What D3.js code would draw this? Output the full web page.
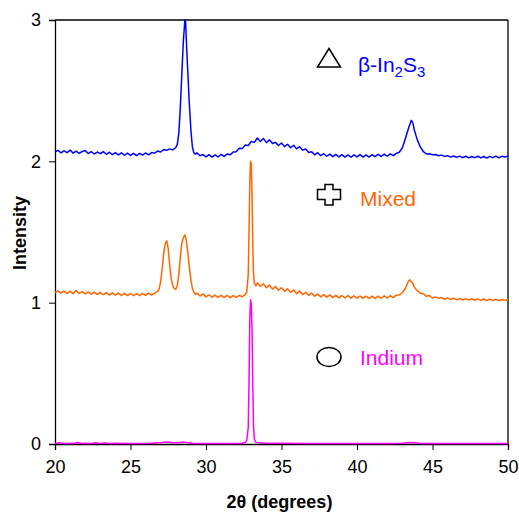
<!DOCTYPE html>
<html>
<head>
<meta charset="utf-8">
<script src="https://cdn.jsdelivr.net/npm/d3@7"></script>
<style>
  html, body { margin: 0; padding: 0; background: #fff; }
  svg { display: block; font-family: Arial, "Liberation Sans", sans-serif; }
</style>
</head>
<body>
<svg id="chart" width="519" height="514"></svg>
<script>
// XRD patterns, [2θ, intensity] (offset-stacked)
const betaIn2S3 = [
  [20.0,2.068],[20.2,2.078],[20.4,2.060],[20.6,2.074],[20.8,2.062],[21.0,2.080],[21.2,2.058],[21.4,2.072],
  [21.6,2.056],[21.8,2.070],[22.0,2.076],[22.2,2.055],[22.4,2.068],[22.6,2.052],[22.8,2.066],[23.0,2.054],
  [23.2,2.069],[23.4,2.050],[23.6,2.064],[23.8,2.047],[24.0,2.062],[24.2,2.045],[24.4,2.060],[24.6,2.043],
  [24.8,2.058],[25.0,2.042],[25.2,2.057],[25.4,2.041],[25.6,2.056],[25.8,2.044],[26.0,2.059],[26.2,2.046],
  [26.4,2.062],[26.6,2.058],[26.8,2.073],[27.0,2.066],[27.2,2.084],[27.4,2.078],[27.6,2.088],[27.8,2.080],
  [28.0,2.098],[28.1,2.12],[28.2,2.20],[28.3,2.38],[28.4,2.62],[28.5,2.85],[28.6,3.0],[28.65,2.99],
  [28.7,2.85],[28.8,2.62],[28.9,2.40],[29.0,2.22],[29.1,2.10],[29.2,2.06],[29.3,2.050],[29.4,2.060],
  [29.6,2.040],[29.8,2.048],[30.0,2.032],[30.2,2.047],[30.4,2.030],[30.6,2.045],[30.8,2.031],[31.0,2.049],
  [31.2,2.035],[31.4,2.052],[31.6,2.046],[31.8,2.066],[32.0,2.068],[32.2,2.092],[32.4,2.090],[32.6,2.115],
  [32.8,2.112],[33.0,2.140],[33.2,2.134],[33.4,2.165],[33.6,2.140],[33.8,2.162],[34.0,2.132],[34.2,2.152],
  [34.4,2.126],[34.6,2.134],[34.8,2.112],[35.0,2.130],[35.2,2.104],[35.4,2.121],[35.6,2.096],[35.8,2.114],
  [36.0,2.088],[36.2,2.104],[36.4,2.079],[36.6,2.087],[36.8,2.062],[37.0,2.068],[37.2,2.046],[37.4,2.061],
  [37.6,2.040],[37.8,2.054],[38.0,2.036],[38.2,2.051],[38.4,2.033],[38.6,2.049],[38.8,2.031],[39.0,2.047],
  [39.2,2.030],[39.4,2.045],[39.6,2.029],[39.8,2.046],[40.0,2.031],[40.2,2.048],[40.4,2.030],[40.6,2.045],
  [40.8,2.030],[41.0,2.047],[41.2,2.033],[41.4,2.050],[41.6,2.035],[41.8,2.051],[42.0,2.036],[42.2,2.053],
  [42.4,2.040],[42.6,2.056],[42.8,2.064],[43.0,2.095],[43.2,2.160],[43.4,2.230],[43.5,2.262],[43.6,2.290],
  [43.7,2.270],[43.8,2.220],[44.0,2.150],[44.2,2.100],[44.4,2.068],[44.6,2.052],[44.8,2.054],[45.0,2.046],
  [45.2,2.048],[45.4,2.040],[45.6,2.044],[45.8,2.035],[46.0,2.040],[46.2,2.030],[46.4,2.038],[46.6,2.028],
  [46.8,2.037],[47.0,2.026],[47.2,2.036],[47.4,2.024],[47.6,2.034],[47.8,2.026],[48.0,2.036],[48.2,2.024],
  [48.4,2.034],[48.6,2.023],[48.8,2.035],[49.0,2.026],[49.2,2.037],[49.4,2.025],[49.6,2.036],[49.8,2.030],
  [50.0,2.038]
];

const mixed = [
  [20.0,1.072],[20.2,1.084],[20.4,1.068],[20.6,1.082],[20.8,1.066],[21.0,1.080],[21.2,1.064],[21.4,1.086],
  [21.6,1.065],[21.8,1.078],[22.0,1.062],[22.2,1.076],[22.4,1.060],[22.6,1.074],[22.8,1.058],[23.0,1.073],
  [23.2,1.056],[23.4,1.071],[23.6,1.054],[23.8,1.069],[24.0,1.053],[24.2,1.068],[24.4,1.051],[24.6,1.066],
  [24.8,1.050],[25.0,1.065],[25.2,1.049],[25.4,1.064],[25.6,1.050],[25.8,1.065],[26.0,1.051],[26.2,1.067],
  [26.4,1.054],[26.6,1.068],[26.8,1.080],[26.9,1.10],[27.0,1.15],[27.1,1.24],[27.2,1.35],[27.3,1.42],
  [27.4,1.437],[27.5,1.38],[27.6,1.26],[27.7,1.17],[27.8,1.12],[27.9,1.10],[28.0,1.095],[28.1,1.12],
  [28.2,1.20],[28.3,1.32],[28.4,1.42],[28.5,1.46],[28.6,1.48],[28.7,1.44],[28.8,1.35],[28.9,1.25],
  [29.0,1.16],[29.1,1.10],[29.2,1.075],[29.3,1.058],[29.4,1.068],[29.6,1.047],[29.8,1.062],[30.0,1.041],
  [30.2,1.056],[30.4,1.038],[30.6,1.053],[30.8,1.037],[31.0,1.052],[31.2,1.036],[31.4,1.051],[31.6,1.035],
  [31.8,1.050],[32.0,1.037],[32.2,1.052],[32.4,1.042],[32.6,1.058],[32.7,1.075],[32.8,1.20],[32.85,1.50],
  [32.9,1.85],[32.95,2.0],[33.0,1.98],[33.05,1.75],[33.1,1.40],[33.15,1.20],[33.2,1.14],[33.3,1.118],
  [33.4,1.140],[33.6,1.114],[33.8,1.134],[34.0,1.106],[34.2,1.124],[34.4,1.096],[34.6,1.114],[34.8,1.088],
  [35.0,1.106],[35.2,1.080],[35.4,1.098],[35.6,1.072],[35.8,1.090],[36.0,1.064],[36.2,1.082],[36.4,1.057],
  [36.6,1.073],[36.8,1.051],[37.0,1.067],[37.2,1.046],[37.4,1.061],[37.6,1.041],[37.8,1.057],[38.0,1.039],
  [38.2,1.055],[38.4,1.036],[38.6,1.052],[38.8,1.034],[39.0,1.051],[39.2,1.033],[39.4,1.050],[39.6,1.032],
  [39.8,1.048],[40.0,1.031],[40.2,1.047],[40.4,1.030],[40.6,1.046],[40.8,1.029],[41.0,1.046],[41.2,1.030],
  [41.4,1.047],[41.6,1.031],[41.8,1.048],[42.0,1.033],[42.2,1.050],[42.4,1.036],[42.6,1.053],[42.8,1.055],
  [43.0,1.070],[43.2,1.100],[43.3,1.125],[43.4,1.150],[43.5,1.162],[43.6,1.148],[43.7,1.135],[43.8,1.110],
  [44.0,1.085],[44.2,1.066],[44.4,1.062],[44.6,1.045],[44.8,1.050],[45.0,1.033],[45.2,1.040],[45.4,1.032],
  [45.6,1.036],[45.8,1.024],[46.0,1.034],[46.2,1.022],[46.4,1.031],[46.6,1.020],[46.8,1.030],[47.0,1.019],
  [47.2,1.029],[47.4,1.018],[47.6,1.028],[47.8,1.017],[48.0,1.027],[48.2,1.016],[48.4,1.026],[48.6,1.015],
  [48.8,1.025],[49.0,1.016],[49.2,1.024],[49.4,1.014],[49.6,1.023],[49.8,1.016],[50.0,1.022]
];

const indium = [
  [20.0,0.004],[20.3,0.008],[20.6,0.003],[20.9,0.005],[21.2,0.003],[21.5,0.010],[21.8,0.004],[22.1,0.006],
  [22.4,0.003],[22.7,0.009],[23.0,0.003],[23.3,0.007],[23.6,0.003],[24.0,0.005],[24.5,0.003],[25.0,0.004],
  [25.5,0.003],[26.0,0.004],[26.4,0.006],[26.8,0.008],[27.1,0.010],[27.3,0.014],[27.5,0.012],[27.8,0.008],
  [28.1,0.008],[28.4,0.012],[28.6,0.013],[28.8,0.008],[29.2,0.004],[29.6,0.003],[30.0,0.004],[30.5,0.003],
  [31.0,0.004],[31.5,0.003],[32.0,0.004],[32.4,0.005],[32.6,0.010],[32.7,0.025],[32.8,0.12],[32.85,0.45],
  [32.9,0.88],[32.95,1.02],[33.0,0.99],[33.05,0.80],[33.1,0.40],[33.15,0.12],[33.2,0.035],[33.3,0.012],
  [33.5,0.008],[34.0,0.006],[34.5,0.006],[35.0,0.005],[35.5,0.005],[36.0,0.004],[37.0,0.003],[38.0,0.004],
  [39.0,0.003],[40.0,0.004],[41.0,0.003],[42.0,0.004],[43.0,0.006],[43.3,0.009],[43.6,0.010],[43.9,0.008],
  [44.2,0.004],[45.0,0.003],[46.0,0.004],[47.0,0.003],[48.0,0.004],[49.0,0.003],[50.0,0.004]
];

const xTicks = [20, 25, 30, 35, 40, 45, 50];
const yTicks = [0, 1, 2, 3];
const seriesNames = ["β-In2S3", "Mixed", "Indium"];
const seriesColors = ["#0000ff", "#ff6600", "#ff00ff"];

const svg = d3.select("#chart");
const margin = { left: 55, right: 11, top: 20, bottom: 70 };
const W = 519, H = 514;

const x = d3.scaleLinear().domain([20, 50]).range([margin.left, W - margin.right]);
const y = d3.scaleLinear().domain([0, 3]).range([H - margin.bottom, margin.top]);

// frame: top and right borders
svg.append("line").attr("x1", x(20)).attr("x2", x(50)).attr("y1", y(3)).attr("y2", y(3))
  .attr("stroke", "#000").attr("stroke-width", 1.3);
svg.append("line").attr("x1", x(50)).attr("x2", x(50)).attr("y1", y(3)).attr("y2", y(0))
  .attr("stroke", "#000").attr("stroke-width", 1.3);

const xAxis = svg.append("g").attr("transform", `translate(0,${y(0)})`)
  .call(d3.axisBottom(x).tickValues(xTicks).tickSizeOuter(0).tickSize(6).tickPadding(10).tickFormat(d3.format("d")));
const yAxis = svg.append("g").attr("transform", `translate(${x(20)},0)`)
  .call(d3.axisLeft(y).tickValues(yTicks).tickSizeOuter(0).tickSize(6).tickPadding(8).tickFormat(d3.format("d")));

[xAxis, yAxis].forEach(g => {
  g.select(".domain").attr("stroke", "#000").attr("stroke-width", 1.3);
  g.selectAll(".tick line").attr("stroke", "#000").attr("stroke-width", 1);
  g.selectAll(".tick text").attr("fill", "#000").style("font-size", "18px")
    .style("font-family", "Arial, 'Liberation Sans', sans-serif");
});

// spectra
const line = d3.line().x(d => x(d[0])).y(d => y(d[1]));
[betaIn2S3, mixed, indium].forEach((data, i) => {
  svg.append("path").datum(data).attr("d", line)
    .attr("fill", "none").attr("stroke", seriesColors[i])
    .attr("stroke-width", 1.5).attr("stroke-linejoin", "round");
});

// axis titles
svg.append("text").attr("x", (x(20) + x(50)) / 2 - 2).attr("y", 508)
  .attr("text-anchor", "middle").style("font-size", "18px").style("font-weight", "bold")
  .text("2θ (degrees)");
svg.append("text").attr("transform", "translate(26,233) rotate(-90)")
  .attr("text-anchor", "middle").style("font-size", "18px").style("font-weight", "bold")
  .text("Intensity");

// legend markers
const mk = svg.append("g").attr("fill", "none").attr("stroke", "#000").attr("stroke-width", 1.5);
mk.append("path").attr("d", "M329,48.5 L340.5,67 L317.5,67 Z");
mk.append("path").attr("d",
  "M325,184.5 H333 V189.5 H340.5 V199.5 H333 V205 H325 V199.5 H317.5 V189.5 H325 Z");
mk.append("ellipse").attr("cx", 329).attr("cy", 357).attr("rx", 12).attr("ry", 9.5);

// legend labels
const lab1 = svg.append("text").attr("x", 358).attr("y", 72)
  .attr("fill", seriesColors[0]).style("font-size", "21px");
lab1.append("tspan").text("β-In");
lab1.append("tspan").attr("dy", 5).style("font-size", "15px").text("2");
lab1.append("tspan").attr("dy", -5).text("S");
lab1.append("tspan").attr("dy", 5).style("font-size", "15px").text("3");

svg.append("text").attr("x", 360).attr("y", 206).attr("fill", seriesColors[1])
  .style("font-size", "21px").text(seriesNames[1]);
svg.append("text").attr("x", 360).attr("y", 365).attr("fill", seriesColors[2])
  .style("font-size", "21px").text(seriesNames[2]);
</script>
</body>
</html>
